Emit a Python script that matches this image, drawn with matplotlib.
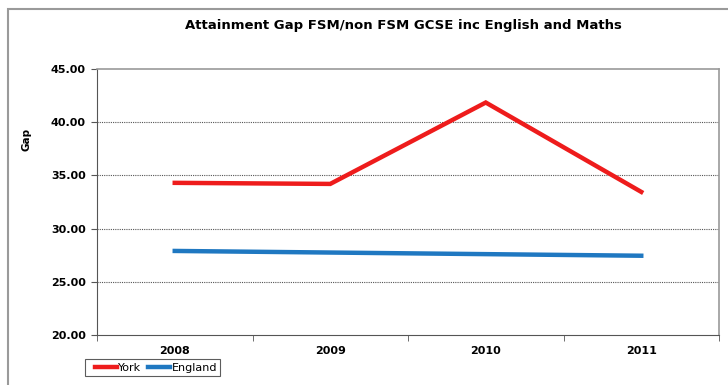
""" Attainment gap line chart, York vs England """

import matplotlib
import matplotlib.pyplot as plt
from matplotlib.patches import Rectangle
from matplotlib.legend_handler import HandlerLine2D

matplotlib.use('Agg')

years = ["2008", "2009", "2010", "2011"]
york = [34.3, 34.2, 41.85, 33.45]
england = [27.9, 27.75, 27.6, 27.45]
y_ticks = [20, 25, 30, 35, 40, 45]

RED = "#ee1c1c"
BLUE = "#1f78c1"

fig = plt.figure(figsize=(7.28, 3.85), dpi=100)
fig.patch.set_facecolor("white")

# grey frame round the whole chart
fig.patches.append(Rectangle((8 / 728, -0.1), 1.0, 1.1 - 9 / 385,
                             transform=fig.transFigure, fill=False,
                             edgecolor="#9a9a9a", linewidth=1.5))

ax = fig.add_axes([97 / 728, 1 - 335 / 385, 622 / 728, 266 / 385])

x = list(range(len(years)))
ax.plot(x, york, color=RED, linewidth=3.2, label="York", solid_joinstyle="miter")
ax.plot(x, england, color=BLUE, linewidth=3.2, label="England")

ax.set_xlim(-0.5, len(years) - 0.5)
ax.set_ylim(20, 45)
ax.set_yticks(y_ticks)
ax.set_yticklabels([f"{v:.2f}" for v in y_ticks], fontsize=8, fontweight="bold")
ax.set_xticks(x)
ax.set_xticklabels(years, fontsize=8, fontweight="bold")
ax.set_xticks([i - 0.5 for i in range(len(years) + 1)], minor=True)
ax.tick_params(axis="x", which="major", length=0, pad=8)
ax.tick_params(axis="x", which="minor", length=4, color="#555555")
ax.tick_params(axis="y", length=4, color="#555555", pad=4)

for v in y_ticks[1:-1]:
    ax.axhline(v, color="#555555", linewidth=0.8, linestyle=(0, (1, 1)), zorder=0)

for side in ["left", "bottom"]:
    ax.spines[side].set_color("#555555")
for side in ["top", "right"]:
    ax.spines[side].set_color("#999999")
    ax.spines[side].set_linewidth(1.2)

ax.set_ylabel("Gap", fontsize=7.5, fontweight="bold")
ax.yaxis.set_label_coords(-0.105, 0.737)

fig.text(403 / 728, 1 - 25 / 385, "Attainment Gap FSM/non FSM GCSE inc English and Maths",
         ha="center", va="center", fontsize=9.5, fontweight="bold")

# short legend keys with a gap before each one
leg = ax.legend(loc="lower left", bbox_to_anchor=(85 / 728, 1 - 376 / 385),
                bbox_transform=fig.transFigure, ncol=2, fontsize=8,
                frameon=True, fancybox=False, handlelength=2.6, handletextpad=0.1,
                columnspacing=0.0, borderpad=0.3, borderaxespad=0,
                handler_map={matplotlib.lines.Line2D: HandlerLine2D(xpad=0.6)})
leg.get_frame().set_edgecolor("#333333")
leg.get_frame().set_linewidth(0.8)

plt.savefig("out.png", dpi=100)
